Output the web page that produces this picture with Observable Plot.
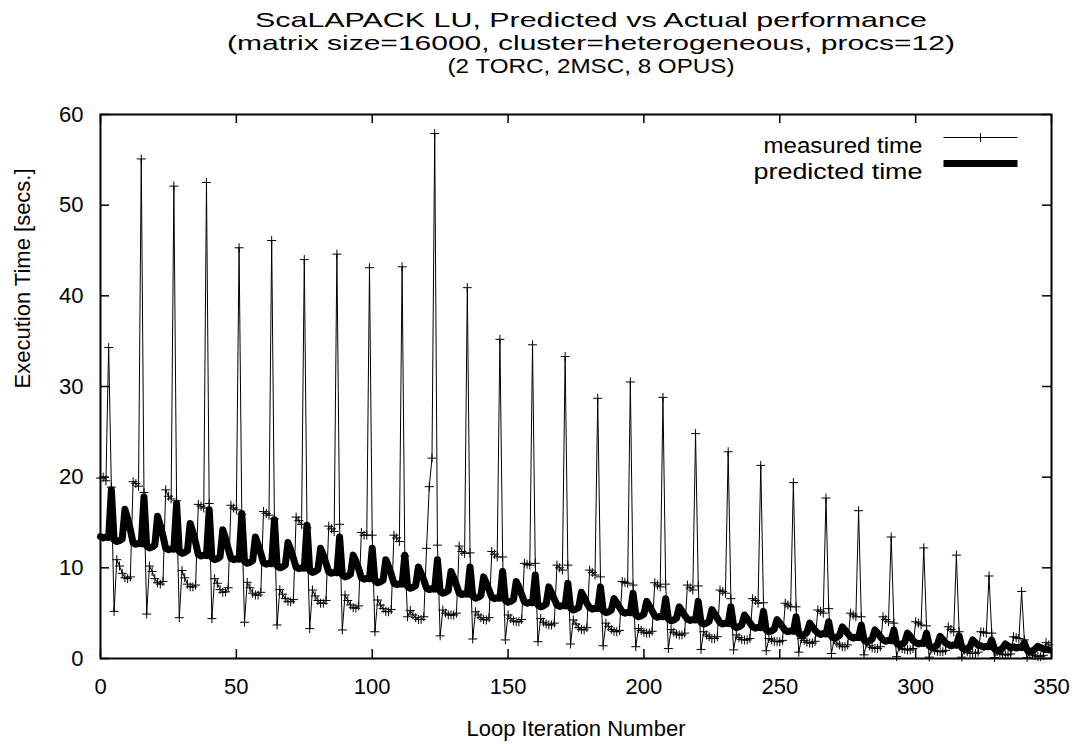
<!DOCTYPE html>
<html>
<head>
<meta charset="utf-8">
<script src="https://cdn.jsdelivr.net/npm/d3@7"></script>
<script src="https://cdn.jsdelivr.net/npm/@observablehq/plot@0.6"></script>
<style>
  html, body { margin: 0; padding: 0; background: #fff; }
  #chart { width: 1080px; height: 744px; }
</style>
</head>
<body>
<div id="chart"></div>
<script>
// Title lines
const titleLines = [
  "ScaLAPACK LU, Predicted vs Actual performance",
  "(matrix size=16000, cluster=heterogeneous, procs=12)",
  "(2 TORC, 2MSC, 8 OPUS)"
];
const xLabel = "Loop Iteration Number";
const yLabel = "Execution Time [secs.]";
const seriesNames = ["measured time", "predicted time"];
const xTicks = [0, 50, 100, 150, 200, 250, 300, 350];
const yTicks = [0, 10, 20, 30, 40, 50, 60];

// measured time per loop iteration (index = iteration)
const measured = [
  19.9, 20.0, 19.6, 34.3, 18.9, 5.2, 10.9, 10.2, 9.4, 8.9, 8.8, 9.0,
  19.5, 19.3, 19.0, 55.1, 18.3, 4.9, 10.2, 9.6, 8.8, 8.35, 8.2, 8.5,
  18.6, 17.9, 17.6, 52.1, 17.4, 4.5, 9.7, 8.9, 8.2, 7.9, 7.9, 8.1,
  17.0, 16.8, 16.6, 52.5, 17.1, 4.4, 8.8, 8.3, 7.6, 7.3, 7.35, 7.8,
  16.9, 16.6, 16.4, 45.3, 15.9, 4.0, 8.4, 7.8, 7.2, 7.0, 7.0, 7.3,
  16.2, 16.0, 15.8, 46.1, 15.4, 3.7, 7.6, 7.1, 6.6, 6.3, 6.25, 6.5,
  15.6, 15.2, 14.8, 44.0, 14.4, 3.3, 7.55, 6.9, 6.4, 6.1, 6.1, 6.4,
  14.6, 14.3, 14.0, 44.6, 14.8, 3.15, 7.0, 6.4, 5.9, 5.6, 5.55, 5.8,
  13.9, 13.6, 13.6, 43.1, 13.6, 2.95, 6.45, 5.9, 5.5, 5.2, 5.15, 5.4,
  13.6, 13.3, 12.9, 43.2, 11.3, 4.6, 5.3, 4.8, 4.5, 4.3, 4.3, 4.6,
  12.15, 18.95, 22.1, 57.9, 12.5, 2.5, 5.35, 5.0, 4.8, 4.8, 4.8, 5.0,
  12.4, 11.8, 11.6, 40.9, 11.65, 2.15, 5.15, 4.8, 4.5, 4.3, 4.25, 4.5,
  11.8, 11.5, 11.2, 35.2, 11.2, 2.05, 4.8, 4.4, 4.15, 4.05, 4.05, 4.3,
  10.5, 10.4, 10.3, 34.6, 10.5, 1.85, 4.4, 4.0, 3.8, 3.7, 3.7, 3.9,
  10.3, 10.0, 9.75, 33.3, 10.3, 1.6, 4.25, 3.8, 3.4, 3.2, 3.15, 3.4,
  9.75, 9.5, 9.2, 28.7, 9.0, 1.4, 3.9, 3.5, 3.2, 3.0, 2.95, 3.1,
  8.5, 8.4, 8.3, 30.5, 8.1, 1.3, 3.3, 3.1, 2.9, 2.8, 2.8, 3.0,
  8.35, 8.1, 7.9, 28.8, 8.2, 1.1, 3.2, 2.9, 2.7, 2.6, 2.6, 2.8,
  8.1, 7.8, 7.55, 24.8, 8.0, 1.0, 2.95, 2.6, 2.4, 2.2, 2.2, 2.4,
  7.55, 7.4, 7.2, 22.8, 6.6, 0.95, 2.6, 2.3, 2.1, 2.05, 2.05, 2.2,
  6.6, 6.4, 6.1, 21.3, 6.15, 0.85, 2.2, 2.05, 1.9, 1.85, 1.85, 2.0,
  6.1, 5.9, 5.7, 19.4, 5.7, 0.7, 2.2, 2.0, 1.8, 1.7, 1.7, 1.9,
  5.35, 5.2, 5.0, 17.7, 5.5, 0.55, 2.05, 1.7, 1.5, 1.3, 1.3, 1.5,
  5.0, 4.8, 4.6, 16.3, 4.6, 0.4, 1.7, 1.4, 1.2, 1.1, 1.1, 1.3,
  4.6, 4.3, 4.05, 13.4, 3.9, 0.2, 1.3, 1.1, 1.0, 0.95, 0.95, 1.1,
  4.05, 3.9, 3.7, 12.2, 3.6, 0.15, 1.1, 0.9, 0.8, 0.75, 0.75, 0.9,
  3.5, 3.2, 2.95, 11.4, 2.95, 0.15, 0.95, 0.75, 0.6, 0.55, 0.55, 0.7,
  2.95, 2.9, 2.8, 9.1, 2.8, 0.1, 0.75, 0.6, 0.45, 0.4, 0.4, 0.5,
  2.4, 2.3, 2.2, 7.4, 2.05, 0.1, 0.55, 0.4, 0.3, 0.2, 0.2, 0.35,
  1.75, 1.5
];

// predicted time per loop iteration (index = iteration)
const predicted = [
  13.45, 13.3, 13.4, 13.35, 18.6, 13.1, 12.9, 13.0, 13.2, 16.45, 15.4, 14.2,
  12.75, 12.6, 12.7, 12.65, 17.8, 12.4, 12.2, 12.3, 12.5, 15.7, 14.7, 13.5,
  12.15, 12.0, 12.1, 12.05, 17.1, 11.8, 11.6, 11.7, 11.9, 14.9, 13.95, 12.8,
  11.45, 11.3, 11.4, 11.35, 16.4, 11.1, 10.9, 11.0, 11.2, 14.2, 13.25, 12.1,
  11.05, 10.9, 11.0, 10.95, 16.0, 10.7, 10.5, 10.6, 10.8, 13.4, 12.55, 11.6,
  10.55, 10.4, 10.5, 10.45, 15.3, 10.2, 10.0, 10.1, 10.3, 12.8, 12.0, 11.05,
  10.05, 9.9, 10.0, 9.95, 14.7, 9.7, 9.5, 9.6, 9.8, 12.15, 11.4, 10.5,
  9.55, 9.4, 9.5, 9.45, 13.4, 9.2, 9.0, 9.1, 9.3, 11.4, 10.7, 9.9,
  8.9, 8.75, 8.85, 8.8, 12.15, 8.55, 8.35, 8.45, 8.65, 10.9, 10.15, 9.3,
  8.3, 8.15, 8.25, 8.2, 11.4, 7.95, 7.75, 7.85, 8.05, 10.1, 9.4, 8.65,
  7.75, 7.6, 7.7, 7.65, 10.9, 7.4, 7.2, 7.3, 7.5, 9.6, 8.9, 8.1,
  7.2, 7.05, 7.15, 7.1, 10.1, 6.85, 6.65, 6.75, 6.95, 9.0, 8.3, 7.55,
  6.75, 6.6, 6.7, 6.65, 9.6, 6.4, 6.2, 6.3, 6.5, 8.5, 7.85, 7.05,
  6.25, 6.1, 6.2, 6.15, 9.2, 5.9, 5.7, 5.8, 6.0, 7.9, 7.25, 6.55,
  5.9, 5.75, 5.85, 5.8, 8.3, 5.55, 5.35, 5.45, 5.65, 7.3, 6.75, 6.1,
  5.6, 5.45, 5.55, 5.5, 7.9, 5.25, 5.05, 5.15, 5.35, 6.6, 6.15, 5.65,
  5.15, 5.0, 5.1, 5.05, 7.2, 4.8, 4.6, 4.7, 4.9, 6.3, 5.8, 5.25,
  4.7, 4.55, 4.65, 4.6, 6.6, 4.35, 4.15, 4.25, 4.45, 5.7, 5.25, 4.75,
  4.35, 4.2, 4.3, 4.25, 6.3, 4.0, 3.8, 3.9, 4.1, 5.4, 4.95, 4.45,
  3.95, 3.8, 3.9, 3.85, 5.7, 3.6, 3.4, 3.5, 3.7, 4.8, 4.4, 3.95,
  3.5, 3.35, 3.45, 3.4, 5.2, 3.15, 2.95, 3.05, 3.25, 4.3, 3.9, 3.5,
  3.1, 2.95, 3.05, 3.0, 4.6, 2.75, 2.55, 2.65, 2.85, 3.9, 3.5, 3.1,
  2.8, 2.65, 2.75, 2.7, 4.05, 2.45, 2.25, 2.35, 2.55, 3.5, 3.15, 2.75,
  2.4, 2.25, 2.35, 2.3, 3.7, 2.05, 1.85, 1.95, 2.15, 3.15, 2.8, 2.4,
  2.05, 1.9, 2.0, 1.95, 3.15, 1.7, 1.5, 1.6, 1.8, 2.8, 2.45, 2.0,
  1.75, 1.6, 1.7, 1.65, 2.8, 1.4, 1.2, 1.3, 1.5, 2.45, 2.1, 1.7,
  1.55, 1.4, 1.5, 1.45, 2.5, 1.2, 1.0, 1.1, 1.3, 2.05, 1.75, 1.45,
  1.4, 1.25, 1.35, 1.3, 2.05, 1.05, 0.85, 0.95, 1.15, 1.6, 1.4, 1.15,
  1.3, 1.15, 1.25, 1.2, 1.75, 0.95, 0.75, 0.85, 1.05, 1.35, 1.2, 1.05,
  1.0, 0.95
];

const measuredData = measured.map((v, i) => ({iter: i, t: v}));
const predictedData = predicted.map((v, i) => ({iter: i, t: v}));

// thin "+" marker (gnuplot style)
const thinPlus = {
  draw(context, size) {
    const r = Math.sqrt(size / Math.PI);
    context.moveTo(-r, 0); context.lineTo(r, 0);
    context.moveTo(0, -r); context.lineTo(0, r);
  }
};
// horizontal segment used for legend samples
const hSeg = {
  draw(context, size) {
    const r = Math.sqrt(size / Math.PI);
    context.moveTo(-r, 0); context.lineTo(r, 0);
  }
};

const W = 1080, H = 744;
const mL = 100, mR = 29, mT = 114, mB = 86;
const fw = W - mL - mR, fh = H - mT - mB;
const tick = 9;
const font = "'Liberation Sans', Arial, Helvetica, sans-serif";
const fs = 22;
const tfs = 21;

const chart = Plot.plot({
  width: W, height: H,
  marginLeft: mL, marginRight: mR, marginTop: mT, marginBottom: mB,
  x: {domain: [0, 350]},
  y: {domain: [0, 60]},
  style: {fontFamily: font, fontSize: fs + "px", background: "#fff", color: "#000", overflow: "visible"},
  marks: [
    // tick labels
    Plot.axisX(xTicks, {tickSize: 0, tickPadding: 20, label: null, fontSize: fs}),
    Plot.axisY(yTicks, {tickSize: 0, tickPadding: 17, label: null, fontSize: fs}),
    // inward ticks on all four sides
    Plot.ruleY(yTicks, {y: d => d, insetRight: fw - tick, stroke: "#000", strokeWidth: 1.5}),
    Plot.ruleY(yTicks, {y: d => d, insetLeft: fw - tick, stroke: "#000", strokeWidth: 1.5}),
    Plot.ruleX(xTicks, {x: d => d, insetTop: fh - tick, stroke: "#000", strokeWidth: 1.5}),
    Plot.ruleX(xTicks, {x: d => d, insetBottom: fh - tick, stroke: "#000", strokeWidth: 1.5}),
    // measured time
    Plot.line(measuredData, {x: "iter", y: "t", stroke: "#000", strokeWidth: 1, strokeLinejoin: "miter"}),
    Plot.dot(measuredData, {x: "iter", y: "t", symbol: thinPlus, r: 4.5, fill: "none", stroke: "#000", strokeWidth: 1}),
    // predicted time
    Plot.line(predictedData, {x: "iter", y: "t", stroke: "#000", strokeWidth: 7, strokeLinejoin: "round"}),
    // frame
    Plot.frame({stroke: "#000", strokeWidth: 2}),
    // legend
    Plot.text([seriesNames[0]], {text: d => d, frameAnchor: "top-right", textAnchor: "end", dx: -129, dy: 23, fontSize: fs, fill: "#000"}),
    Plot.dot([0], {frameAnchor: "top-right", dx: -71, dy: 23, symbol: hSeg, r: 37, fill: "none", stroke: "#000", strokeWidth: 1}),
    Plot.dot([0], {frameAnchor: "top-right", dx: -71, dy: 23, symbol: thinPlus, r: 4.5, fill: "none", stroke: "#000", strokeWidth: 1}),
    Plot.text([seriesNames[1]], {text: d => d, frameAnchor: "top-right", textAnchor: "end", dx: -129, dy: 49, fontSize: fs, fill: "#000"}),
    Plot.dot([0], {frameAnchor: "top-right", dx: -71, dy: 49, symbol: hSeg, r: 37, fill: "none", stroke: "#000", strokeWidth: 7}),
    // titles
    Plot.text([titleLines[0]], {text: d => d, frameAnchor: "top", dx: 15, dy: -102, fontSize: tfs, fill: "#000"}),
    Plot.text([titleLines[1]], {text: d => d, frameAnchor: "top", dx: 15, dy: -79, fontSize: tfs, fill: "#000"}),
    Plot.text([titleLines[2]], {text: d => d, frameAnchor: "top", dx: 15, dy: -56, fontSize: tfs, fill: "#000"}),
    // axis labels
    Plot.text([xLabel], {text: d => d, frameAnchor: "bottom", dy: 77, fontSize: fs, fill: "#000"}),
    Plot.text([yLabel], {text: d => d, frameAnchor: "left", dx: -78, dy: 2, rotate: -90, fontSize: fs, fill: "#000"})
  ]
});

// widen the texts that are drawn wider in the reference
const textWidths = new Map([
  [titleLines[0], 672],
  [titleLines[1], 728],
  [titleLines[2], 287],
  [seriesNames[0], 159],
  [seriesNames[1], 169]
]);
d3.select(chart).selectAll("text").each(function() {
  const w = textWidths.get(this.textContent);
  if (w) d3.select(this).attr("textLength", w).attr("lengthAdjust", "spacingAndGlyphs");
});
document.getElementById("chart").appendChild(chart);
</script>
</body>
</html>
